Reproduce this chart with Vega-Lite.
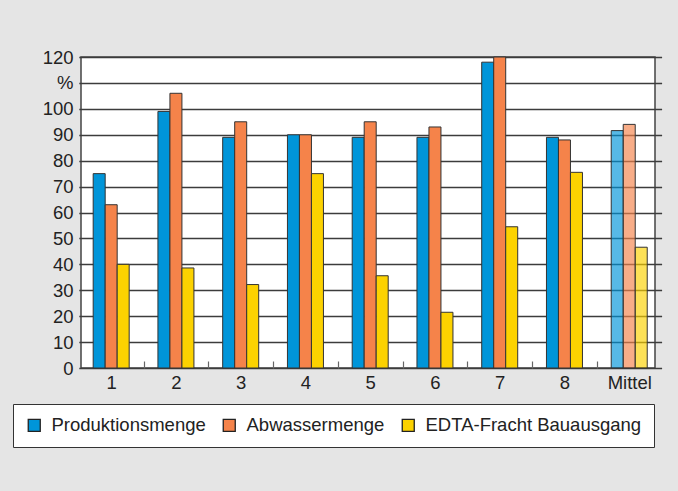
{
  "$schema": "https://vega.github.io/schema/vega-lite/v6.json",
  "autosize": "none",
  "width": 574,
  "height": 311,
  "padding": {"left": 81, "top": 57, "right": 23, "bottom": 123},
  "background": "#e5e5e5",
  "config": {
    "font": "Liberation Sans",
    "view": {"fill": "white", "stroke": "#444", "strokeWidth": 1.5}
  },
  "data": {
    "values": [
      {"cat": "1", "series": "Produktionsmenge", "value": 75},
      {"cat": "1", "series": "Abwassermenge", "value": 63},
      {"cat": "1", "series": "EDTA-Fracht Bauausgang", "value": 40},
      {"cat": "2", "series": "Produktionsmenge", "value": 99},
      {"cat": "2", "series": "Abwassermenge", "value": 106},
      {"cat": "2", "series": "EDTA-Fracht Bauausgang", "value": 38.6},
      {"cat": "3", "series": "Produktionsmenge", "value": 89},
      {"cat": "3", "series": "Abwassermenge", "value": 95},
      {"cat": "3", "series": "EDTA-Fracht Bauausgang", "value": 32.2},
      {"cat": "4", "series": "Produktionsmenge", "value": 90},
      {"cat": "4", "series": "Abwassermenge", "value": 90},
      {"cat": "4", "series": "EDTA-Fracht Bauausgang", "value": 75},
      {"cat": "5", "series": "Produktionsmenge", "value": 89},
      {"cat": "5", "series": "Abwassermenge", "value": 95},
      {"cat": "5", "series": "EDTA-Fracht Bauausgang", "value": 35.6},
      {"cat": "6", "series": "Produktionsmenge", "value": 89},
      {"cat": "6", "series": "Abwassermenge", "value": 93},
      {"cat": "6", "series": "EDTA-Fracht Bauausgang", "value": 21.5},
      {"cat": "7", "series": "Produktionsmenge", "value": 118},
      {"cat": "7", "series": "Abwassermenge", "value": 120},
      {"cat": "7", "series": "EDTA-Fracht Bauausgang", "value": 54.5},
      {"cat": "8", "series": "Produktionsmenge", "value": 89},
      {"cat": "8", "series": "Abwassermenge", "value": 88},
      {"cat": "8", "series": "EDTA-Fracht Bauausgang", "value": 75.5},
      {"cat": "Mittel", "series": "Produktionsmenge", "value": 91.6},
      {"cat": "Mittel", "series": "Abwassermenge", "value": 94},
      {"cat": "Mittel", "series": "EDTA-Fracht Bauausgang", "value": 46.6}
    ]
  },
  "mark": {"type": "bar", "stroke": "#333", "strokeWidth": 1, "strokeOpacity": 1},
  "encoding": {
    "x": {
      "field": "cat",
      "type": "nominal",
      "sort": null,
      "scale": {"range": [-2.2, 580.6], "paddingInner": 0.444, "paddingOuter": 0.222},
      "axis": {
        "title": null,
        "labelAngle": 0,
        "labelFontSize": 18.5,
        "labelColor": "#222",
        "labelPadding": 12,
        "labelOffset": -32.4,
        "tickBand": "center",
        "tickOffset": 32.4,
        "tickSize": -7,
        "tickColor": "#666",
        "tickWidth": 1.2,
        "tickOpacity": {"condition": {"test": "datum.value == 'Mittel'", "value": 0}, "value": 1},
        "domain": false,
        "grid": false
      }
    },
    "xOffset": {
      "field": "series",
      "type": "nominal",
      "sort": ["Produktionsmenge", "Abwassermenge", "EDTA-Fracht Bauausgang"]
    },
    "y": {
      "field": "value",
      "type": "quantitative",
      "scale": {"domain": [0, 120], "nice": false},
      "axis": {
        "title": null,
        "values": [0, 10, 20, 30, 40, 50, 60, 70, 80, 90, 100, 110, 120],
        "labelExpr": "datum.value == 110 ? '%' : datum.label",
        "labelFontSize": 18.5,
        "labelColor": "#222",
        "labelPadding": 8,
        "ticks": false,
        "domain": false,
        "grid": true,
        "gridColor": "#3c3c3c",
        "gridWidth": 1.4
      }
    },
    "color": {
      "field": "series",
      "type": "nominal",
      "sort": ["Produktionsmenge", "Abwassermenge", "EDTA-Fracht Bauausgang"],
      "scale": {
        "domain": ["Produktionsmenge", "Abwassermenge", "EDTA-Fracht Bauausgang"],
        "range": ["#0095d9", "#f5834a", "#fcd200"]
      },
      "legend": {
        "title": null,
        "orient": "none",
        "direction": "horizontal",
        "legendX": -68,
        "legendY": 347,
        "fillColor": "white",
        "strokeColor": "#333",
        "padding": 12,
        "symbolType": "square",
        "symbolSize": 144,
        "symbolStrokeColor": "#222",
        "symbolStrokeWidth": 1.3,
        "symbolOpacity": 1,
        "labelFontSize": 18.5,
        "labelColor": "#222",
        "labelOffset": 8,
        "labelLimit": 400,
        "columnPadding": 14
      }
    },
    "fillOpacity": {
      "condition": {"test": "datum.cat == 'Mittel'", "value": 0.66},
      "value": 1
    }
  }
}
